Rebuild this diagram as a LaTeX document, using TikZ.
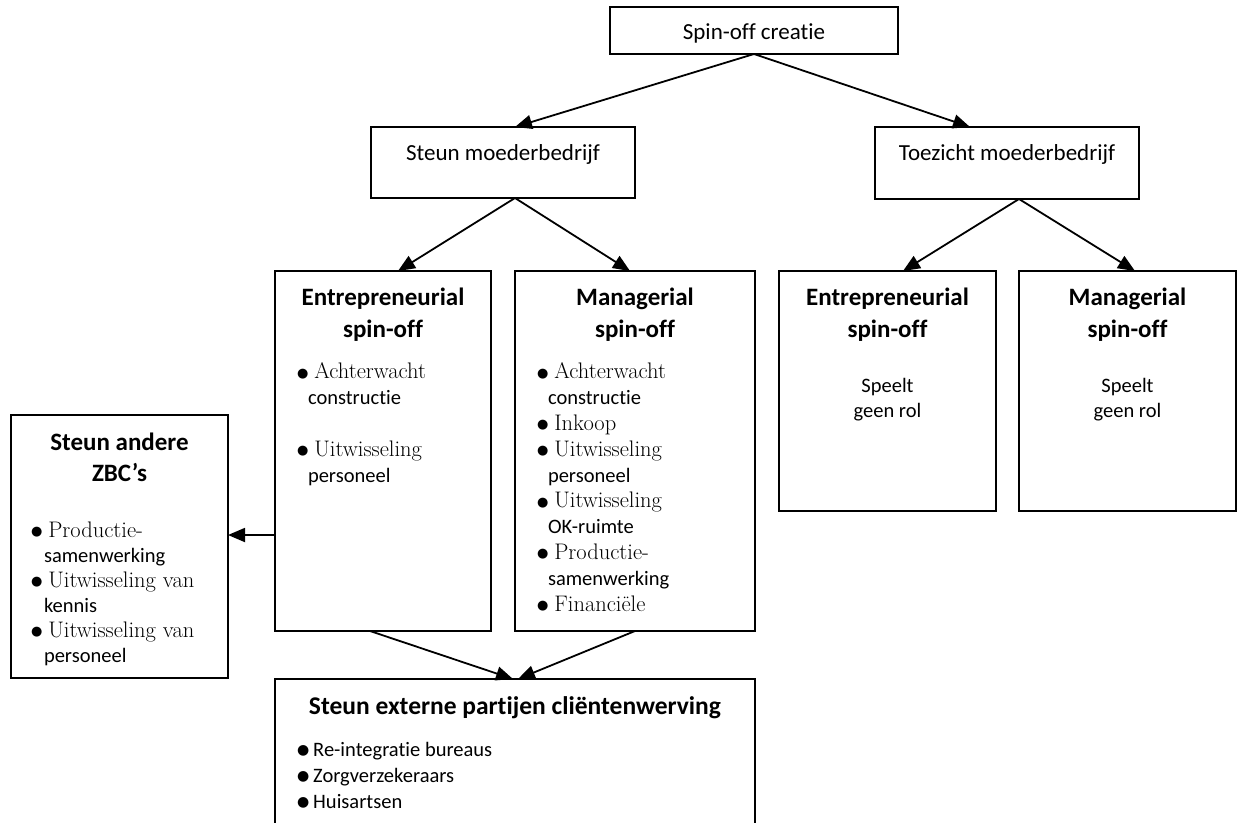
\documentclass[tikz,border=0pt]{standalone}
\usepackage{fontspec}
\setsansfont{Carlito}[Ligatures=NoCommon]
\newfontfamily\symfont{DejaVu Sans}
\usetikzlibrary{arrows.meta,calc}

\tikzset{
  box/.style={draw, line width=1.7pt, inner sep=0pt, outer sep=0pt, anchor=north west},
  arr/.style={line width=1.8pt, -{Triangle[length=17pt,width=14pt]}},
  lbl/.style={inner sep=0pt, outer sep=0pt, anchor=base, font=\sffamily\fontsize{23}{28}\selectfont},
  ttl/.style={inner sep=0pt, outer sep=0pt, align=center, anchor=base, font=\sffamily\bfseries\fontsize{25}{32}\selectfont},
  body/.style={inner sep=0pt, outer sep=0pt, align=left, anchor=base west, font=\sffamily\fontsize{20.5}{25.8}\selectfont},
  cbody/.style={inner sep=0pt, outer sep=0pt, align=center, anchor=base, font=\sffamily\fontsize{20.5}{25}\selectfont},
}
% round bullet, then the first words of the item in the serif face;
% continuation lines are set in the sans face
\newcommand{\itemdot}{\raisebox{1.5pt}{\symfont\fontsize{13}{20}\selectfont ●}}
\newcommand{\bul}[1]{\itemdot\hspace{6pt}{\rmfamily\fontsize{22.5}{25.8}\selectfont #1}}
\newcommand{\sbul}{\raisebox{1.5pt}{\symfont\fontsize{14}{20}\selectfont ●}\hspace{4pt}}

\begin{document}
\begin{tikzpicture}[x=1pt,y=-1pt]
  \clip (0,0) rectangle (1237,822);
  \fill[white] (0,0) rectangle (1237,822);

  % boxes
  \node[box, minimum width=288pt, minimum height=47pt] (spin)  at (610,7)   {};
  \node[box, minimum width=264pt, minimum height=71pt] (steun) at (371,127) {};
  \node[box, minimum width=264pt, minimum height=72pt] (toez)  at (875,127) {};
  \node[box, minimum width=216pt, minimum height=360pt] (entL) at (275,271) {};
  \node[box, minimum width=240pt, minimum height=360pt] (manL) at (515,271) {};
  \node[box, minimum width=217pt, minimum height=240pt] (entR) at (779,271) {};
  \node[box, minimum width=217pt, minimum height=240pt] (manR) at (1019,271) {};
  \node[box, minimum width=217pt, minimum height=263pt] (zbc)  at (11,415)  {};
  \node[box, minimum width=480pt, minimum height=160pt] (ext)  at (275,679) {};

  % labels of the upper boxes
  \node[lbl] (tspin)  at (754,39)  {Spin-off creatie};
  \node[lbl] (tsteun) at (503,160) {Steun moederbedrijf};
  \node[lbl] (ttoez)  at (1007,160) {Toezicht moederbedrijf};

  % titles (placed at the baseline of their last line)
  \node[ttl] (hentL) at (383,337)   {Entrepreneurial\\spin-off};
  \node[ttl] (hmanL) at (635,337)   {Managerial\\spin-off};
  \node[ttl] (hentR) at (887.5,337) {Entrepreneurial\\spin-off};
  \node[ttl] (hmanR) at (1127.5,337){Managerial\\spin-off};
  \node[ttl, font=\sffamily\bfseries\fontsize{25}{31}\selectfont] (hzbc) at (119.5,481) {Steun andere\\ZBC’s};
  \node[ttl, font=\sffamily\bfseries\fontsize{25.5}{31}\selectfont] (hext) at (515,714) {Steun externe partijen cliëntenwerving};

  % contents (placed at the baseline of their last line)
  \node[body] (bentL) at (297,482) {\bul{Achterwacht}\\\hspace*{11pt}constructie\\\mbox{}\\\bul{Uitwisseling}\\\hspace*{11pt}personeel};
  \node[body] (bmanL) at (537,611) {\bul{Achterwacht}\\\hspace*{11pt}constructie\\\bul{Inkoop}\\\bul{Uitwisseling}\\\hspace*{11pt}personeel\\\bul{Uitwisseling}\\\hspace*{11pt}OK-ruimte\\\bul{Productie-}\\\hspace*{11pt}samenwerking\\\bul{Financiële}};
  \node[cbody] (bentR) at (887.5,417) {Speelt\\geen rol};
  \node[cbody] (bmanR) at (1127.5,417) {Speelt\\geen rol};
  \node[body, font=\sffamily\fontsize{20.5}{25}\selectfont] (bzbc) at (31,662) {\bul{Productie-}\\\hspace*{13pt}samenwerking\\\bul{Uitwisseling van}\\\hspace*{13pt}kennis\\\bul{Uitwisseling van}\\\hspace*{13pt}personeel};
  \node[body] (bext) at (297,808) {\sbul Re-integratie bureaus\\\sbul Zorgverzekeraars\\\sbul Huisartsen};

  % connectors
  \draw[arr] (spin.south) -- ($(steun.north west)+(144,0)$);
  \draw[arr] (spin.south) -- ($(toez.north west)+(95,0)$);
  \draw[arr] ($(steun.south west)+(144,0)$) -- ($(entL.north west)+(123,0)$);
  \draw[arr] ($(steun.south west)+(144,0)$) -- ($(manL.north west)+(115,0)$);
  \draw[arr] ($(toez.south west)+(144,0)$) -- ($(entR.north west)+(124,0)$);
  \draw[arr] ($(toez.south west)+(144,0)$) -- ($(manR.north west)+(116,0)$);
  \draw[arr] ($(entL.north west)+(0,264)$) -- ($(zbc.north east)+(0,120)$);
  \draw[arr] ($(entL.south west)+(95,0)$) -- ($(ext.north west)+(238,0)$);
  \draw[arr] ($(manL.south west)+(120,0)$) -- ($(ext.north west)+(243,0)$);
\end{tikzpicture}
\end{document}
